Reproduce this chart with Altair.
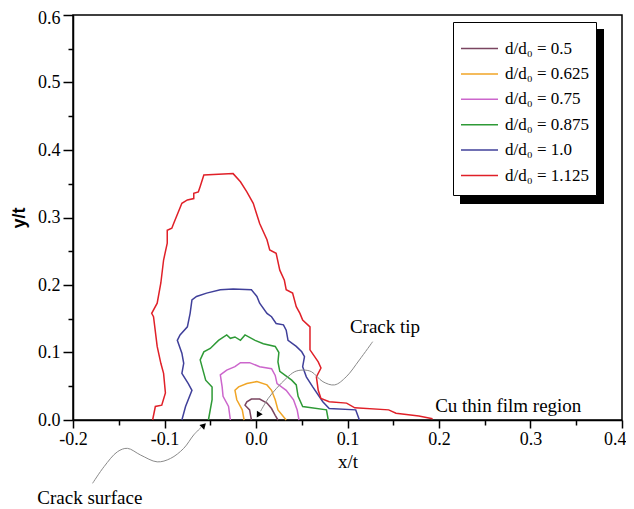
import altair as alt
import pandas as pd

# ---------------- data ----------------
series_names = ["d/d₀ = 0.5", "d/d₀ = 0.625", "d/d₀ = 0.75",
                "d/d₀ = 0.875", "d/d₀ = 1.0", "d/d₀ = 1.125"]
series_colors = ["#7a4560", "#f0a526", "#cc66cc", "#2e9a36", "#40409a", "#e02028"]

x_05 = [-0.005, -0.007, -0.012, -0.010, -0.005, 0.004, 0.012, 0.017, 0.021, 0.024]
y_05 = [0.0, 0.015, 0.022, 0.027, 0.031, 0.031, 0.025, 0.017, 0.007, 0.0]

x_0625 = [-0.013, -0.015, -0.021, -0.023, -0.019, -0.010, 0.001, 0.012, 0.017, 0.021, 0.024, 0.033]
y_0625 = [0.0, 0.015, 0.030, 0.044, 0.049, 0.054, 0.057, 0.052, 0.044, 0.030, 0.015, 0.0]

x_075 = [-0.028, -0.030, -0.036, -0.037, -0.039, -0.032, -0.023, -0.017, -0.007, 0.004,
         0.017, 0.021, 0.023, 0.033, 0.041, 0.045, 0.047]
y_075 = [0.0, 0.020, 0.035, 0.049, 0.067, 0.074, 0.079, 0.085, 0.085, 0.079,
         0.076, 0.066, 0.054, 0.044, 0.030, 0.015, 0.0]

x_0875 = [-0.052, -0.048, -0.048, -0.055, -0.057, -0.061, -0.057, -0.050, -0.041, -0.032,
          -0.028, -0.023, -0.017, -0.012, -0.001, 0.008, 0.021, 0.025, 0.024, 0.026,
          0.039, 0.044, 0.046, 0.051, 0.077, 0.079]
y_0875 = [0.0, 0.030, 0.049, 0.059, 0.069, 0.089, 0.101, 0.106, 0.118, 0.126,
          0.121, 0.123, 0.118, 0.126, 0.118, 0.113, 0.109, 0.100, 0.086, 0.072,
          0.059, 0.052, 0.035, 0.020, 0.015, 0.0]

x_10 = [-0.081, -0.077, -0.070, -0.074, -0.081, -0.079, -0.081, -0.086, -0.083, -0.075,
        -0.072, -0.070, -0.065, -0.054, -0.039, -0.025, -0.005, 0.001, 0.004, 0.012,
        0.017, 0.022, 0.030, 0.033, 0.035, 0.044, 0.050, 0.053, 0.051, 0.055,
        0.062, 0.073, 0.080, 0.109, 0.113]
y_10 = [0.0, 0.020, 0.044, 0.054, 0.069, 0.084, 0.099, 0.118, 0.126, 0.138,
        0.158, 0.178, 0.183, 0.188, 0.193, 0.194, 0.193, 0.183, 0.173, 0.158,
        0.153, 0.143, 0.141, 0.133, 0.118, 0.109, 0.101, 0.094, 0.079, 0.064,
        0.049, 0.027, 0.017, 0.015, 0.0]

x_1125 = [-0.113, -0.110, -0.103, -0.099, -0.101, -0.104, -0.108, -0.112, -0.114, -0.108,
          -0.104, -0.101, -0.097, -0.097, -0.092, -0.090, -0.081, -0.075, -0.068, -0.068,
          -0.063, -0.061, -0.057, -0.025, -0.017, -0.010, -0.003, 0.004, 0.012, 0.015,
          0.022, 0.026, 0.031, 0.033, 0.040, 0.044, 0.048, 0.051, 0.059, 0.059,
          0.068, 0.071, 0.066, 0.068, 0.071, 0.080, 0.099, 0.108, 0.145, 0.153,
          0.178, 0.193]
y_1125 = [0.0, 0.020, 0.022, 0.040, 0.069, 0.084, 0.109, 0.153, 0.158, 0.173,
          0.203, 0.237, 0.262, 0.281, 0.284, 0.291, 0.321, 0.326, 0.328, 0.336,
          0.338, 0.346, 0.363, 0.365, 0.353, 0.338, 0.321, 0.291, 0.267, 0.252,
          0.247, 0.222, 0.207, 0.193, 0.188, 0.168, 0.158, 0.148, 0.138, 0.104,
          0.086, 0.077, 0.064, 0.044, 0.032, 0.027, 0.025, 0.018, 0.015, 0.010,
          0.006, 0.002]

# annotation leader curves
tip_x = [0.1275, 0.113, 0.0986, 0.0859, 0.0732, 0.0605, 0.0514, 0.0424, 0.0333, 0.0225, 0.0134, 0.005]
tip_y = [0.116, 0.089, 0.064, 0.052, 0.0567, 0.0716, 0.074, 0.0716, 0.062, 0.047, 0.032, 0.013]
surf_x = [-0.1786, -0.166, -0.1514, -0.1405, -0.126, -0.108, -0.0935, -0.079, -0.068, -0.060]
surf_y = [-0.0938, -0.069, -0.047, -0.042, -0.052, -0.062, -0.057, -0.042, -0.022, -0.011]

arrow_x = [0.0025, -0.057]
arrow_y = [0.0074, -0.008]
arrow_angle = [211, 45]

note_text = ["Crack tip", "Cu thin film region", "Crack surface"]
note_x = [0.141, 0.2757, -0.1816]
note_y = [0.138, 0.0207, -0.1156]

x_ticks = [-0.2, -0.15, -0.1, -0.05, 0.0, 0.05, 0.1, 0.15, 0.2, 0.25, 0.3, 0.35, 0.4]
y_ticks = [0.0, 0.05, 0.1, 0.15, 0.2, 0.25, 0.3, 0.35, 0.4, 0.45, 0.5, 0.55, 0.6]

# ---------------- tables ----------------
all_x = [x_05, x_0625, x_075, x_0875, x_10, x_1125]
all_y = [y_05, y_0625, y_075, y_0875, y_10, y_1125]
rows = []
for name, xs, ys in zip(series_names, all_x, all_y):
    for i, (xv, yv) in enumerate(zip(xs, ys)):
        rows.append({"series": name, "x": xv, "y": yv, "i": i})
df = pd.DataFrame(rows)

arows = []
for name, xs, ys in [("tip", tip_x, tip_y), ("surf", surf_x, surf_y)]:
    for i, (xv, yv) in enumerate(zip(xs, ys)):
        arows.append({"name": name, "x": xv, "y": yv, "i": i})
adf = pd.DataFrame(arows)

arrdf = pd.DataFrame({"x": arrow_x, "y": arrow_y, "angle": arrow_angle})
notedf = pd.DataFrame({"label": note_text, "x": note_x, "y": note_y})

# ---------------- scales / axes ----------------
SERIF = "Liberation Serif, Times New Roman, serif"
major = "abs(datum.value*10 - round(datum.value*10)) < 0.001"
lab = f"{major} ? ((datum.value < -0.0001 ? '-' : '') + format(abs(datum.value), '.1f')) : ''"

xscale = alt.Scale(domain=[-0.2, 0.4], nice=False, zero=False)
yscale = alt.Scale(domain=[0.0, 0.6], nice=False, zero=False)

x_axis = alt.Axis(values=x_ticks, labelExpr=lab, title="x/t", grid=False,
                  tickSize={"condition": {"test": major, "value": 8}, "value": 5},
                  labelAlign={"condition": {"test": "datum.value > 0.39", "value": "right"},
                              "value": "center"},
                  labelOffset={"condition": {"test": "datum.value > 0.39", "value": 4},
                               "value": 0},
                  labelPadding=2, titlePadding=4,
                  labelFont=SERIF, labelFontSize=18,
                  titleFont=SERIF, titleFontSize=19, titleFontWeight="normal")
y_axis = alt.Axis(values=y_ticks, labelExpr=lab, title="y/t", grid=False,
                  tickSize={"condition": {"test": major, "value": 10}, "value": 5},
                  labelOffset={"condition": {"test": "datum.value > 0.59", "value": 3},
                               "value": 0},
                  labelPadding=3, titlePadding=9,
                  labelFont=SERIF, labelFontSize=18,
                  titleFont="Liberation Sans", titleFontSize=18, titleFontWeight="bold")

X = alt.X("x:Q", scale=xscale, axis=x_axis)
Y = alt.Y("y:Q", scale=yscale, axis=y_axis)

shadow = alt.Chart(pd.DataFrame({"a": [0]})).mark_rect(color="black").encode(
    x=alt.value(387), x2=alt.value(531), y=alt.value(14), y2=alt.value(189))

lines = alt.Chart(df).mark_line(strokeWidth=1.5).encode(
    x=X, y=Y,
    color=alt.Color("series:N",
                    scale=alt.Scale(domain=series_names, range=series_colors),
                    legend=alt.Legend(title=" ", titleFontSize=2, titlePadding=5,
                                      orient="none", legendX=380, legendY=7,
                                      symbolType="stroke", symbolSize=1369,
                                      symbolStrokeWidth=1.5, clipHeight=25,
                                      rowPadding=0.4, labelOffset=6,
                                      labelFont=SERIF, labelFontSize=17,
                                      labelColor="black", padding=7,
                                      fillColor="white", strokeColor="black")),
    order="i:Q")

leaders = alt.Chart(adf).mark_line(strokeWidth=1, color="#8a8a8a",
                                   interpolate="catmull-rom").encode(
    x=X, y=Y, detail="name:N", order="i:Q")

arrows = alt.Chart(arrdf).mark_point(shape="triangle-up", filled=True, color="black",
                                     size=45, opacity=1).encode(
    x=X, y=Y, angle=alt.Angle("angle:Q", scale=None))

notes = alt.Chart(notedf).mark_text(font=SERIF, fontSize=19, color="black").encode(
    x=X, y=Y, text="label:N")

chart = alt.layer(shadow, lines, leaders, arrows, notes).properties(
    width=549, height=405,
    autosize="none",
    padding={"left": 65, "top": 7, "right": 4, "bottom": 89},
).configure_view(stroke="black", strokeWidth=1.5).configure_axis(
    domainColor="black", domainWidth=1.5, tickColor="black", tickWidth=1.5,
    labelFont=SERIF, labelFontSize=18, labelColor="black", titleColor="black",
).configure_legend(strokeWidth=1)

chart.save("out.html", embed_options={"renderer": "svg", "actions": False})
